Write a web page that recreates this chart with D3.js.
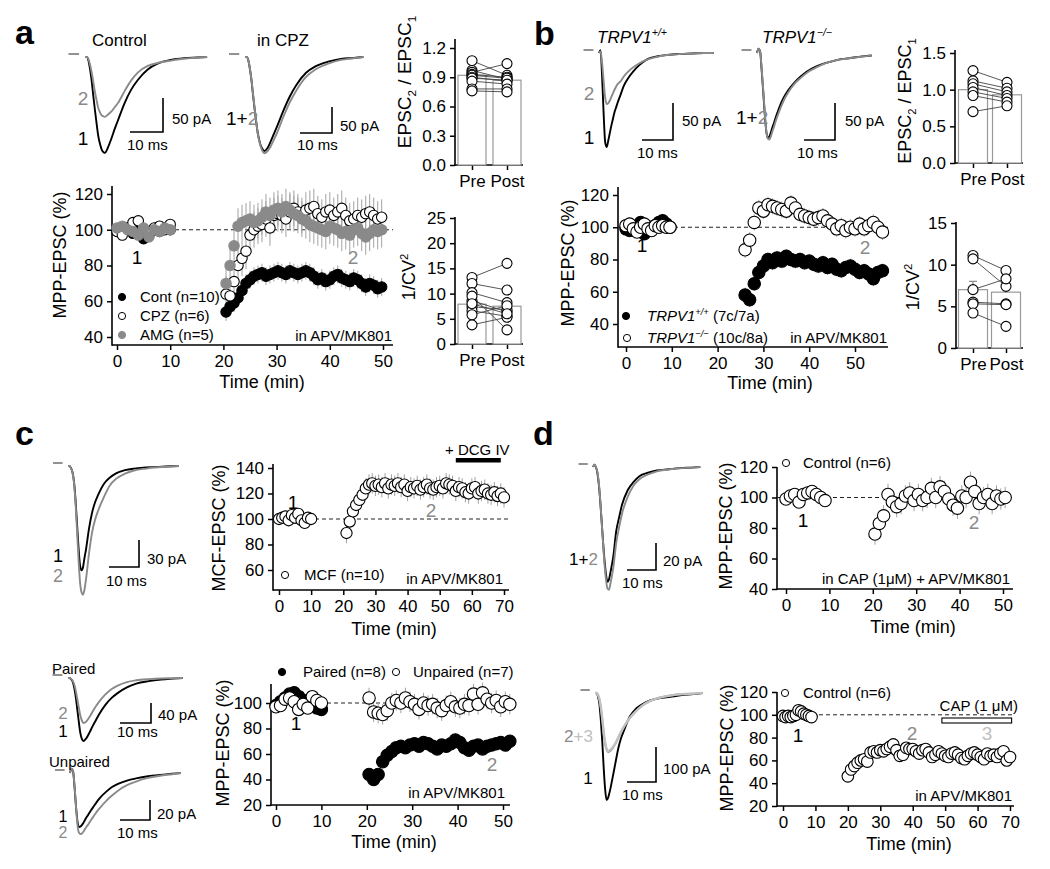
<!DOCTYPE html>
<html>
<head>
<meta charset="utf-8">
<script src="https://cdn.jsdelivr.net/npm/d3@7/dist/d3.min.js"></script>
<style>
html,body{margin:0;padding:0;background:#fff;}
svg{display:block;font-family:"Liberation Sans",Arial,Helvetica,sans-serif;}
</style>
</head>
<body>
<svg id="fig" width="1050" height="869" viewBox="0 0 1050 869"></svg>
<script>
// ======================= DATA =======================
// ---- Panel a: time course (MPP-EPSC %) ----
const aXTicks = [0, 10, 20, 30, 40, 50];
const aYTicks = [40, 60, 80, 100, 120];
const aPreT0 = 0, aPreDt = 1, aPostT0 = 20.5, aPostDt = 0.75;
const aContPre = [100, 99, 101, 98, 103, 95, 97, 100, 99, 101, 100];
const aCpzPre  = [99, 97, 101, 104, 105, 100, 98, 101, 102, 100, 103];
const aAmgPre  = [101, 102, 100, 99, 97, 101, 96, 100, 99, 101, 100];
const aContPost = [54, 57, 59, 62, 66, 70, 72, 74, 75, 76, 74, 75, 76, 77, 76, 75, 77, 76, 75, 76, 77, 76, 74, 72, 73, 71, 72, 74, 75, 73, 72, 71, 73, 72, 70, 68, 70, 69, 67, 68];
const aCpzPost  = [64, 63, 71, 80, 84, 88, 97, 100, 102, 103, 106, 101, 108, 109, 108, 106, 110, 112, 110, 108, 111, 112, 113, 109, 107, 110, 111, 108, 110, 112, 108, 105, 106, 108, 107, 109, 110, 108, 106, 107];
const aAmgPost  = [70, 80, 91, 102, 104, 105, 106, 104, 105, 107, 110, 108, 111, 112, 110, 113, 111, 109, 108, 106, 105, 103, 102, 101, 100, 99, 102, 101, 100, 98, 99, 97, 100, 101, 98, 96, 98, 100, 99, 100];
const aSemPre = 2, aContSem = 5, aCpzSem = 10, aAmgSem = 10;
const aLegend = ["Cont (n=10)", "CPZ (n=6)", "AMG (n=5)"];
// Panel a: paired ratio & 1/CV2
const pairCats = ["Pre", "Post"];
const aEpscPre  = [1.07, 0.97, 0.95, 0.93, 0.92, 0.90, 0.89, 0.86, 0.78, 0.76];
const aEpscPost = [0.92, 0.88, 1.04, 0.90, 0.89, 0.86, 0.87, 0.83, 0.78, 0.75];
const aEpscMean = [0.92, 0.87], aEpscSem = [0.03, 0.03];
const aEpscTicks = [0, 0.3, 0.6, 0.9, 1.2];
const aCvPre  = [13.2, 12.0, 10.2, 8.6, 7.4, 6.6, 5.8, 3.8, 9.5, 8.0];
const aCvPost = [16.0, 10.7, 8.2, 6.4, 6.8, 5.5, 7.6, 5.3, 2.8, 6.0];
const aCvMean = [7.9, 7.5], aCvSem = [0.9, 1.0];
const aCvTicks = [0, 5, 10, 15, 20, 25];

// ---- Panel b ----
const bXTicks = [0, 10, 20, 30, 40, 50];
const bYTicks = [40, 60, 80, 100, 120];
const bPreT0 = 0, bPreDt = 0.8, bPostT0 = 26, bPostDt = 1;
const bWtPre  = [99, 98, 100, 98, 103, 96, 98, 100, 101, 103, 104, 102, 100];
const bKoPre  = [101, 102, 99, 97, 100, 102, 99, 98, 101, 100, 101, 100, 100];
const bWtPost = [58, 55, 65, 72, 76, 80, 78, 81, 79, 82, 80, 79, 80, 78, 79, 77, 76, 78, 75, 77, 74, 73, 75, 76, 74, 72, 73, 71, 68, 72, 73];
const bKoPost = [86, 92, 103, 112, 110, 114, 113, 112, 111, 110, 115, 112, 108, 107, 106, 105, 106, 107, 104, 102, 99, 101, 98, 100, 99, 102, 99, 101, 103, 100, 97];
const bSemPre = 2, bWtSem = 4.5, bKoSem = 5;
const bLegend = ["(7c/7a)", "(10c/8a)"];
const bEpscPre  = [1.26, 1.12, 1.08, 1.03, 0.97, 0.92, 0.70];
const bEpscPost = [1.10, 1.02, 0.97, 0.92, 0.88, 0.83, 0.78];
const bEpscMean = [1.0, 0.93], bEpscSem = [0.07, 0.04];
const bEpscTicks = [0, 0.5, 1.0, 1.5];
const bCvPre  = [11.1, 10.7, 7.0, 5.5, 5.3, 4.2];
const bCvPost = [9.3, 7.4, 8.3, 5.3, 5.2, 2.6];
const bCvMean = [7.0, 6.7], bCvSem = [1.0, 0.9];
const bCvTicks = [0, 5, 10, 15];

// ---- Panel c ----
const cXTicks = [0, 10, 20, 30, 40, 50, 60, 70];
const cYTicks = [60, 80, 100, 120, 140];
const cPreT0 = 0, cPreDt = 1, cPostT0 = 21, cPostDt = 1;
const cMcfPre  = [100, 101, 102, 99, 103, 101, 104, 99, 97, 101, 100];
const cMcfPost = [89, 98, 106, 111, 115, 119, 124, 127, 128, 126, 127, 125, 128, 124, 127, 126, 128, 125, 127, 122, 125, 124, 126, 123, 125, 127, 124, 123, 125, 126, 124, 128, 127, 126, 122, 125, 124, 121, 120, 124, 125, 120, 122, 123, 120, 119, 121, 118, 120, 117];
const cSemPre = 2.5, cMcfSem = 8;
const cDcgStart = 55, cDcgEnd = 69;
const cbXTicks = [0, 10, 20, 30, 40, 50];
const cbYTicks = [20, 40, 60, 80, 100];
const cbPreT0 = 0, cbPreDt = 1, cbPostT0 = 20.5, cbPostDt = 1;
const cbPairPre  = [98, 101, 104, 107, 108, 105, 102, 100, 98, 96, 95];
const cbUnpPre   = [97, 98, 103, 104, 101, 95, 99, 96, 105, 102, 100];
const cbPairPost = [44, 40, 44, 54, 59, 62, 65, 66, 65, 67, 68, 66, 69, 68, 66, 64, 67, 66, 68, 71, 69, 65, 63, 66, 67, 64, 66, 67, 68, 69, 67, 70];
const cbUnpPost  = [104, 93, 92, 91, 94, 100, 102, 100, 104, 101, 99, 95, 100, 98, 99, 96, 94, 98, 101, 97, 96, 99, 98, 107, 99, 108, 103, 100, 102, 97, 101, 99];
const cbSemPre = 3, cbPairSem = 2, cbUnpSem = 8;

// ---- Panel d ----
const dXTicks = [0, 10, 20, 30, 40, 50];
const dYTicks = [40, 60, 80, 100, 120];
const dPreT0 = 0, dPreDt = 1, dPostT0 = 20.5, dPostDt = 1;
const dCapPre  = [99, 101, 102, 97, 102, 103, 104, 102, 100, 98];
const dCapPost = [76, 83, 88, 102, 97, 94, 96, 101, 103, 98, 102, 98, 100, 106, 100, 107, 104, 99, 95, 93, 101, 100, 110, 104, 96, 100, 102, 96, 101, 99, 100];
const dSemPre = 2, dCapSem = 7;
const dbXTicks = [0, 10, 20, 30, 40, 50, 60, 70];
const dbYTicks = [20, 40, 60, 80, 100, 120];
const dbPreT0 = 0, dbPreDt = 0.8, dbPostT0 = 20, dbPostDt = 1;
const dbCtlPre  = [99, 98, 99, 98, 99, 100, 104, 103, 101, 100, 99, 98];
const dbCtlPost = [46, 52, 55, 58, 60, 61, 59, 67, 68, 67, 69, 68, 70, 72, 74, 69, 64, 65, 71, 70, 70, 68, 66, 69, 70, 67, 63, 65, 68, 66, 64, 63, 66, 67, 65, 62, 61, 64, 66, 67, 65, 63, 61, 66, 64, 65, 63, 66, 68, 60, 63];
const dbSemPre = 1.5, dbCtlSem = 2.5;
const dbCapStart = 49, dbCapEnd = 70.5;

// ---- EPSC traces (time in ms from onset; fraction of peak) ----
const traceT = [0, 0.5, 1, 1.5, 2, 2.5, 3, 3.5, 4, 4.5, 5, 5.5, 6, 7, 8, 9, 10, 12, 14, 16, 19, 22, 26, 30, 34, 37];
const aCtrlBlack = [0, 0, .03, .12, .24, .40, .55, .69, .82, .90, .96, .99, 1.0, .94, .85, .75, .66, .48, .34, .24, .13, .07, .03, .012, .005, 0];
const aCtrlGrey  = [0, 0, .03, .12, .25, .41, .58, .72, .85, .92, .97, .99, 1.0, .96, .91, .84, .77, .57, .39, .26, .15, .10, .06, .03, .01, 0];
const aCpzBlack  = [0, 0, .03, .12, .24, .40, .55, .69, .81, .89, .95, .98, 1.0, .97, .90, .82, .74, .57, .42, .30, .17, .10, .05, .02, .01, 0];
const aCpzGrey   = [0, 0, .03, .11, .23, .38, .53, .67, .80, .88, .94, .98, 1.0, .98, .93, .86, .79, .62, .47, .35, .21, .13, .07, .03, .012, 0];
const bWtBlack = [0, -.03, .25, .65, .95, 1.0, .93, .85, .77, .70, .63, .58, .53, .44, .35, .29, .24, .16, .10, .06, .035, .02, .01, .005, 0, 0];
const bWtGrey  = [0, -.03, .20, .55, .88, 1.0, .98, .93, .86, .79, .72, .66, .61, .55, .46, .39, .33, .24, .17, .12, .07, .04, .02, .01, 0, 0];
const bKoBlack = [0, -.05, -.02, .20, .45, .72, .92, 1.0, .98, .93, .87, .82, .76, .66, .57, .50, .44, .35, .28, .22, .16, .12, .08, .06, .04, .03];
const bKoGrey  = [0, -.05, -.02, .18, .42, .68, .90, .99, 1.0, .96, .90, .85, .79, .69, .60, .52, .46, .36, .29, .23, .17, .12, .08, .06, .04, .03];
const cTopBlack = [0, 0, .02, .06, .15, .32, .55, .78, .95, 1.0, .97, .88, .80, .60, .45, .35, .28, .17, .11, .07, .04, .025, .015, .008, .003, 0];
const cTopGrey  = [0, 0, .02, .05, .13, .28, .50, .72, .90, .98, 1.0, .96, .88, .68, .52, .42, .35, .24, .15, .10, .06, .035, .02, .01, .004, 0];
const cPairBlack = [0, 0, .02, .06, .15, .30, .50, .70, .88, .97, 1.0, .98, .95, .86, .76, .67, .58, .43, .32, .24, .15, .09, .05, .025, .01, 0];
const cPairGrey  = [0, 0, .02, .06, .14, .28, .47, .66, .84, .95, 1.0, .99, .96, .86, .74, .63, .53, .37, .25, .17, .09, .05, .025, .01, .005, 0];
const cUnpBlack = [0, -.08, -.04, .25, .62, .90, 1.0, .99, .96, .92, .87, .82, .78, .69, .61, .53, .46, .35, .26, .20, .14, .10, .06, .035, .015, 0];
const cUnpGrey  = [0, -.07, -.04, .20, .55, .85, .98, 1.0, .99, .96, .92, .88, .85, .77, .70, .63, .57, .46, .37, .29, .20, .14, .08, .045, .02, 0];
const dTopBlack = [0, -.02, 0, .05, .15, .30, .48, .66, .82, .94, 1.0, .98, .92, .78, .56, .44, .33, .20, .13, .08, .05, .03, .02, .01, .005, 0];
const dTopGrey  = [0, -.02, 0, .04, .13, .27, .45, .63, .80, .92, .99, 1.0, .95, .82, .62, .49, .38, .24, .15, .10, .06, .035, .02, .01, .005, 0];
const dBotBlack = [0, 0, .03, .10, .25, .45, .70, .90, 1.0, .98, .93, .87, .80, .66, .52, .42, .35, .22, .15, .11, .07, .05, .035, .02, .01, 0];
const dBotGrey  = [0, 0, .03, .10, .25, .45, .68, .86, .96, 1.0, .99, .97, .94, .86, .76, .66, .57, .42, .31, .22, .13, .08, .04, .02, .01, 0];
const dBotLight = [0, 0, .03, .10, .24, .44, .67, .85, .96, 1.0, .99, .97, .94, .87, .77, .67, .58, .43, .32, .23, .14, .085, .045, .02, .01, 0];

// ======================= DRAWING =======================
const svg = d3.select("#fig");
const BLACK = "#000", GREY = "#8a8a8a", LIGHT = "#c0c0c0", ERR = "#a3a3a3";
const FS_TICK = 17, FS_TITLE = 18, FS_SM = 15, FS_NUM = 19;

function rich(parent, x, y, parts, o = {}) {
  const fs = o.fs || FS_SM;
  const t = parent.append("text").attr("x", x).attr("y", y)
    .attr("font-size", fs).attr("text-anchor", o.anchor || "start");
  if (o.transform) t.attr("transform", o.transform);
  if (o.bold) t.attr("font-weight", "bold");
  parts.forEach(p => {
    const ts = t.append("tspan").text(p.s).attr("fill", p.fill || BLACK);
    if (p.italic) ts.attr("font-style", "italic");
    if (p.sup) ts.attr("font-size", fs * 0.62).attr("baseline-shift", (fs * 0.4) + "px");
    if (p.sub) ts.attr("font-size", fs * 0.62).attr("baseline-shift", (-fs * 0.25) + "px");
  });
  return t;
}
function txt(x, y, s, o = {}) { return rich(svg, x, y, [{ s, fill: o.fill }], o); }
function yTitle(cx, cy, parts, fs) {
  rich(svg, 0, fs * 0.35, parts, { fs, anchor: "middle", transform: `translate(${cx},${cy}) rotate(-90)` });
}

function styleAxis(sel, fs) {
  sel.select(".domain").remove();
  sel.selectAll("line").attr("stroke", BLACK).attr("stroke-width", 1.5);
  sel.selectAll("text").attr("font-size", fs).attr("fill", BLACK)
    .attr("font-family", '"Liberation Sans", Arial, sans-serif');
}
function frame(g, c, x, y) {
  const gx = g.append("g").attr("transform", `translate(0,${c.axisY})`)
    .call(d3.axisBottom(x).tickValues(c.xt).tickSize(5).tickPadding(5).tickFormat(c.xf || (d => d)));
  styleAxis(gx, c.xfs || FS_TICK);
  const gy = g.append("g").attr("transform", `translate(${c.axisX},0)`)
    .call(d3.axisLeft(y).tickValues(c.yt).tickSize(5).tickPadding(4).tickFormat(c.yf || (d => d)));
  styleAxis(gy, c.yfs || FS_TICK);
  g.append("line").attr("x1", c.axisX).attr("x2", c.xEnd).attr("y1", c.axisY).attr("y2", c.axisY)
    .attr("stroke", BLACK).attr("stroke-width", 1.6);
  g.append("line").attr("x1", c.axisX).attr("x2", c.axisX).attr("y1", c.yTop).attr("y2", c.axisY + 0.8)
    .attr("stroke", BLACK).attr("stroke-width", 1.6);
}
function pts(t0, dt, vals, sem) { return vals.map((v, i) => ({ t: t0 + i * dt, v, e: sem })); }

function timeChart(c) {
  const g = svg.append("g");
  const x = d3.scaleLinear().domain(c.xd).range(c.xr);
  const y = d3.scaleLinear().domain(c.yd).range(c.yr);
  frame(g, c, x, y);
  g.append("line").attr("x1", c.axisX).attr("x2", c.xEnd).attr("y1", y(100)).attr("y2", y(100))
    .attr("stroke", "#222").attr("stroke-width", 1).attr("stroke-dasharray", "4,3");
  c.series.forEach(s => {
    g.append("g").selectAll("line").data(s.data).join("line")
      .attr("x1", d => x(d.t)).attr("x2", d => x(d.t))
      .attr("y1", d => y(d.v - d.e)).attr("y2", d => y(d.v + d.e))
      .attr("stroke", ERR).attr("stroke-width", 1);
  });
  c.series.forEach(s => {
    g.append("g").selectAll("circle").data(s.data).join("circle")
      .attr("cx", d => x(d.t)).attr("cy", d => y(d.v)).attr("r", c.r)
      .attr("fill", s.fill).attr("stroke", s.stroke).attr("stroke-width", 1.1);
  });
  return { g, x, y };
}
function legendDot(x, y, fill, stroke) {
  svg.append("circle").attr("cx", x).attr("cy", y).attr("r", 3.6)
    .attr("fill", fill).attr("stroke", stroke).attr("stroke-width", 1);
}

function pairChart(c) {
  const g = svg.append("g");
  const x = d3.scalePoint().domain(pairCats).range(c.xr);
  const y = d3.scaleLinear().domain(c.yd).range(c.yr);
  frame(g, { ...c, xt: pairCats, xfs: 17 }, x, y);
  g.selectAll("rect.bar").data(pairCats).join("rect")
    .attr("x", d => x(d) - c.bw / 2).attr("width", c.bw)
    .attr("y", (d, i) => y(c.mean[i])).attr("height", (d, i) => c.axisY - y(c.mean[i]))
    .attr("fill", "#fff").attr("stroke", "#999").attr("stroke-width", 1.2);
  pairCats.forEach((d, i) => {
    g.append("line").attr("x1", x(d)).attr("x2", x(d)).attr("y1", y(c.mean[i])).attr("y2", y(c.mean[i] + c.sem[i]))
      .attr("stroke", "#888").attr("stroke-width", 1.2);
    g.append("line").attr("x1", x(d) - 4).attr("x2", x(d) + 4).attr("y1", y(c.mean[i] + c.sem[i])).attr("y2", y(c.mean[i] + c.sem[i]))
      .attr("stroke", "#888").attr("stroke-width", 1.2);
  });
  const pairs = c.pre.map((v, i) => [v, c.post[i]]);
  g.selectAll("line.pair").data(pairs).join("line")
    .attr("x1", x("Pre")).attr("x2", x("Post")).attr("y1", d => y(d[0])).attr("y2", d => y(d[1]))
    .attr("stroke", "#444").attr("stroke-width", 0.9);
  [["Pre", c.pre], ["Post", c.post]].forEach(([k, arr]) => {
    g.selectAll(null).data(arr).join("circle")
      .attr("cx", x(k)).attr("cy", d => y(d)).attr("r", 5)
      .attr("fill", "#fff").attr("stroke", BLACK).attr("stroke-width", 1.1);
  });
}

function tracePanel(p) {
  const g = svg.append("g");
  const xs = d3.scaleLinear().domain([0, 10]).range([p.x0, p.x0 + p.px10]);
  const ys = d3.scaleLinear().domain([0, p.barPA]).range([p.y0, p.y0 + p.barPx]);
  g.append("line").attr("x1", xs(-5)).attr("x2", xs(-1.8)).attr("y1", p.y0 - 3).attr("y2", p.y0 - 3)
    .attr("stroke", "#777").attr("stroke-width", 1.6);
  p.items.forEach(it => {
    const line = d3.line().x((d, i) => xs(traceT[i])).y(d => ys(d * it.amp)).curve(d3.curveMonotoneX);
    g.append("path").attr("d", line(it.frac)).attr("fill", "none")
      .attr("stroke", it.color).attr("stroke-width", it.w || 1.9).attr("stroke-linejoin", "round");
  });
  const xR = p.sbX, yB = p.sbY;
  const wpx = xs(10) - xs(0), hpx = ys(p.barPA) - ys(0);
  g.append("path").attr("d", `M${xR - wpx},${yB}H${xR}V${yB - hpx}`)
    .attr("fill", "none").attr("stroke", BLACK).attr("stroke-width", 1.6);
  txt(p.paPos[0], p.paPos[1], p.barPA + " pA", { fs: FS_SM });
  txt(p.msPos[0], p.msPos[1], "10 ms", { fs: FS_SM });
}

// ---------------- Panel letters ----------------
txt(15, 44, "a", { fs: 34, bold: true });
txt(534, 45, "b", { fs: 34, bold: true });
txt(15, 445, "c", { fs: 34, bold: true });
txt(533, 445, "d", { fs: 34, bold: true });

// ---------------- Panel a ----------------
txt(92, 46, "Control", { fs: 17 });
txt(257, 46, "in CPZ", { fs: 17 });
tracePanel({ x0: 85, px10: 33, y0: 57, barPA: 50, barPx: 34, sbX: 163, sbY: 132,
  paPos: [172, 124], msPos: [127, 150],
  items: [{ frac: aCtrlBlack, amp: 141, color: BLACK }, { frac: aCtrlGrey, amp: 88, color: GREY }] });
txt(83, 105, "2", { fs: FS_NUM, anchor: "middle", fill: GREY });
txt(83, 145, "1", { fs: FS_NUM, anchor: "middle" });
tracePanel({ x0: 245, px10: 32, y0: 57, barPA: 50, barPx: 26, sbX: 332, sbY: 133,
  paPos: [340, 131], msPos: [297, 150],
  items: [{ frac: aCpzBlack, amp: 181, color: BLACK }, { frac: aCpzGrey, amp: 185, color: GREY }] });
rich(svg, 226, 125, [{ s: "1+" }, { s: "2", fill: GREY }], { fs: FS_NUM });

timeChart({ xd: [0, 50], xr: [117, 383], yd: [40, 120], yr: [337, 194], axisX: 112, xEnd: 393, axisY: 345, yTop: 186,
  xt: aXTicks, yt: aYTicks, r: 5.2, series: [
    { data: pts(aPreT0, aPreDt, aContPre, aSemPre).concat(pts(aPostT0, aPostDt, aContPost, aContSem)), fill: BLACK, stroke: BLACK },
    { data: pts(aPreT0, aPreDt, aCpzPre, aSemPre).concat(pts(aPostT0, aPostDt, aCpzPost, aCpzSem)), fill: "#fff", stroke: BLACK },
    { data: pts(aPreT0, aPreDt, aAmgPre, aSemPre).concat(pts(aPostT0, aPostDt, aAmgPost, aAmgSem)), fill: GREY, stroke: GREY }] });
yTitle(60, 255, [{ s: "MPP-EPSC (%)" }], FS_TITLE);
txt(262, 388, "Time (min)", { fs: FS_TITLE, anchor: "middle" });
txt(137, 264, "1", { fs: FS_NUM, anchor: "middle" });
txt(353, 264, "2", { fs: FS_NUM, anchor: "middle", fill: GREY });
legendDot(122, 297, BLACK, BLACK); txt(140, 302, aLegend[0]);
legendDot(122, 316, "#fff", BLACK); txt(140, 321, aLegend[1]);
legendDot(122, 335, GREY, GREY); txt(140, 340, aLegend[2]);
txt(392, 341, "in APV/MK801", { anchor: "end" });

pairChart({ axisX: 455, axisY: 165, xEnd: 523, yTop: 39, yd: [0, 1.2], yr: [165, 48], yt: aEpscTicks, yf: d3.format(".1f"),
  xr: [472, 507], bw: 28, mean: aEpscMean, sem: aEpscSem, pre: aEpscPre, post: aEpscPost });
yTitle(404, 82, [{ s: "EPSC" }, { s: "2", sub: true }, { s: " / EPSC" }, { s: "1", sub: true }], 19);
pairChart({ axisX: 455, axisY: 344, xEnd: 523, yTop: 217, yd: [0, 25], yr: [344, 218], yt: aCvTicks,
  xr: [472, 507], bw: 28, mean: aCvMean, sem: aCvSem, pre: aCvPre, post: aCvPost });
yTitle(409, 277, [{ s: "1/CV" }, { s: "2", sup: true }], FS_TITLE);

// ---------------- Panel b ----------------
rich(svg, 597, 43, [{ s: "TRPV1", italic: true }, { s: "+/+", sup: true, italic: true }], { fs: 17 });
rich(svg, 762, 43, [{ s: "TRPV1", italic: true }, { s: "\u2212/\u2212", sup: true, italic: true }], { fs: 17 });
tracePanel({ x0: 599, px10: 31, y0: 53, barPA: 50, barPx: 37, sbX: 673, sbY: 140,
  paPos: [682, 126], msPos: [637, 158],
  items: [{ frac: bWtBlack, amp: 127, color: BLACK }, { frac: bWtGrey, amp: 69, color: GREY }] });
txt(589, 100, "2", { fs: FS_NUM, anchor: "middle", fill: GREY });
txt(589, 144, "1", { fs: FS_NUM, anchor: "middle" });
tracePanel({ x0: 757, px10: 31, y0: 53, barPA: 50, barPx: 37, sbX: 835, sbY: 140,
  paPos: [845, 126], msPos: [797, 158],
  items: [{ frac: bKoBlack, amp: 115, color: BLACK }, { frac: bKoGrey, amp: 117, color: GREY }] });
rich(svg, 736, 124, [{ s: "1+" }, { s: "2", fill: GREY }], { fs: FS_NUM });

timeChart({ xd: [0, 50], xr: [626, 855], yd: [40, 120], yr: [324, 195], axisX: 618, xEnd: 888, axisY: 347, yTop: 187,
  xt: bXTicks, yt: bYTicks, r: 6.2, series: [
    { data: pts(bPreT0, bPreDt, bWtPre, bSemPre).concat(pts(bPostT0, bPostDt, bWtPost, bWtSem)), fill: BLACK, stroke: BLACK },
    { data: pts(bPreT0, bPreDt, bKoPre, bSemPre).concat(pts(bPostT0, bPostDt, bKoPost, bKoSem)), fill: "#fff", stroke: BLACK }] });
yTitle(568, 263, [{ s: "MPP-EPSC (%)" }], FS_TITLE);
txt(770, 389, "Time (min)", { fs: FS_TITLE, anchor: "middle" });
txt(642, 252, "1", { fs: FS_NUM, anchor: "middle" });
txt(865, 254, "2", { fs: FS_NUM, anchor: "middle", fill: GREY });
legendDot(626, 316, BLACK, BLACK);
rich(svg, 647, 321, [{ s: "TRPV1", italic: true }, { s: "+/+", sup: true, italic: true }, { s: " " + bLegend[0] }]);
legendDot(627, 338, "#fff", BLACK);
rich(svg, 647, 343, [{ s: "TRPV1", italic: true }, { s: "\u2212/\u2212", sup: true, italic: true }, { s: " " + bLegend[1] }]);
txt(887, 343, "in APV/MK801", { anchor: "end" });

pairChart({ axisX: 955, axisY: 163, xEnd: 1023, yTop: 50, yd: [0, 1.5], yr: [163, 53], yt: bEpscTicks, yf: d3.format(".1f"),
  xr: [973, 1007], bw: 29, mean: bEpscMean, sem: bEpscSem, pre: bEpscPre, post: bEpscPost });
yTitle(905, 101, [{ s: "EPSC" }, { s: "2", sub: true }, { s: " / EPSC" }, { s: "1", sub: true }], FS_TITLE);
pairChart({ axisX: 956, axisY: 348, xEnd: 1023, yTop: 222, yd: [0, 15], yr: [348, 223], yt: bCvTicks,
  xr: [973, 1006], bw: 29, mean: bCvMean, sem: bCvSem, pre: bCvPre, post: bCvPost });
yTitle(913, 287, [{ s: "1/CV" }, { s: "2", sup: true }], FS_TITLE);

// ---------------- Panel c ----------------
tracePanel({ x0: 68, px10: 30, y0: 466, barPA: 30, barPx: 27, sbX: 139, sbY: 567,
  paPos: [147, 564], msPos: [106, 586],
  items: [{ frac: cTopBlack, amp: 116, color: BLACK }, { frac: cTopGrey, amp: 143, color: GREY }] });
txt(58, 562, "1", { fs: FS_NUM - 1, anchor: "middle" });
txt(58, 582, "2", { fs: FS_NUM - 1, anchor: "middle", fill: GREY });

const cCh = timeChart({ xd: [0, 70], xr: [279, 504], yd: [60, 140], yr: [570, 468], axisX: 273, xEnd: 509, axisY: 590, yTop: 464,
  xt: cXTicks, yt: cYTicks, r: 5.6, series: [
    { data: pts(cPreT0, cPreDt, cMcfPre, cSemPre).concat(pts(cPostT0, cPostDt, cMcfPost, cMcfSem)), fill: "#fff", stroke: BLACK }] });
yTitle(219, 528, [{ s: "MCF-EPSC (%)" }], FS_TITLE);
txt(394, 635, "Time (min)", { fs: FS_TITLE, anchor: "middle" });
txt(293, 509, "1", { fs: FS_NUM, anchor: "middle" });
txt(431, 517, "2", { fs: FS_NUM, anchor: "middle", fill: GREY });
legendDot(285, 575, "#fff", BLACK); txt(304, 580, "MCF (n=10)");
txt(503, 584, "in APV/MK801", { anchor: "end" });
svg.append("rect").attr("x", cCh.x(cDcgStart)).attr("y", 458).attr("width", cCh.x(cDcgEnd) - cCh.x(cDcgStart)).attr("height", 4.5).attr("fill", BLACK);
rich(svg, 445, 455, [{ s: "+ DCG IV" }], { fs: FS_SM });

tracePanel({ x0: 68, px10: 31, y0: 678, barPA: 40, barPx: 20, sbX: 151, sbY: 723,
  paPos: [158, 720], msPos: [117, 737],
  items: [{ frac: cPairBlack, amp: 126, color: BLACK }, { frac: cPairGrey, amp: 90, color: GREY }] });
txt(52, 674, "Paired", { fs: FS_SM });
txt(63, 719, "2", { fs: 17, anchor: "middle", fill: GREY });
txt(63, 737, "1", { fs: 17, anchor: "middle" });
tracePanel({ x0: 70, px10: 30, y0: 773, barPA: 20, barPx: 20, sbX: 150, sbY: 820,
  paPos: [157, 819], msPos: [117, 838],
  items: [{ frac: cUnpBlack, amp: 54, color: BLACK }, { frac: cUnpGrey, amp: 61, color: GREY }] });
txt(49, 767, "Unpaired", { fs: FS_SM });
txt(63, 822, "1", { fs: 16, anchor: "middle" });
txt(63, 838, "2", { fs: 16, anchor: "middle", fill: GREY });

timeChart({ xd: [0, 50], xr: [276, 503], yd: [20, 100], yr: [805, 703], axisX: 271, xEnd: 510, axisY: 805, yTop: 684,
  xt: cbXTicks, yt: cbYTicks, r: 6.2, series: [
    { data: pts(cbPreT0, cbPreDt, cbPairPre, cbSemPre).concat(pts(cbPostT0, cbPostDt, cbPairPost, cbPairSem)), fill: BLACK, stroke: BLACK },
    { data: pts(cbPreT0, cbPreDt, cbUnpPre, cbSemPre).concat(pts(cbPostT0, cbPostDt, cbUnpPost, cbUnpSem)), fill: "#fff", stroke: BLACK }] });
yTitle(223, 743, [{ s: "MPP-EPSC (%)" }], FS_TITLE);
txt(394, 848, "Time (min)", { fs: FS_TITLE, anchor: "middle" });
txt(296, 730, "1", { fs: FS_NUM, anchor: "middle" });
txt(492, 771, "2", { fs: FS_NUM, anchor: "middle", fill: GREY });
legendDot(282, 672, BLACK, BLACK); txt(303, 677, "Paired (n=8)");
legendDot(396, 672, "#fff", BLACK); txt(413, 677, "Unpaired (n=7)");
txt(505, 798, "in APV/MK801", { anchor: "end" });

// ---------------- Panel d ----------------
tracePanel({ x0: 593, px10: 29, y0: 467, barPA: 20, barPx: 27, sbX: 656, sbY: 570,
  paPos: [663, 566], msPos: [622, 588],
  items: [{ frac: dTopBlack, amp: 85, color: BLACK }, { frac: dTopGrey, amp: 91, color: GREY }] });
rich(svg, 569, 565, [{ s: "1+" }, { s: "2", fill: GREY }], { fs: 17 });

timeChart({ xd: [0, 50], xr: [786, 1003], yd: [40, 120], yr: [589, 467], axisX: 777, xEnd: 1013, axisY: 589, yTop: 467,
  xt: dXTicks, yt: dYTicks, r: 6.2, series: [
    { data: pts(dPreT0, dPreDt, dCapPre, dSemPre).concat(pts(dPostT0, dPostDt, dCapPost, dCapSem)), fill: "#fff", stroke: BLACK }] });
yTitle(726, 526, [{ s: "MPP-EPSC (%)" }], FS_TITLE);
txt(913, 633, "Time (min)", { fs: FS_TITLE, anchor: "middle" });
txt(803, 527, "1", { fs: FS_NUM, anchor: "middle" });
txt(974, 529, "2", { fs: FS_NUM, anchor: "middle", fill: GREY });
legendDot(786, 463, "#fff", BLACK); txt(803, 468, "Control (n=6)");
txt(1010, 584, "in CAP (1\u03BCM) + APV/MK801", { anchor: "end" });

tracePanel({ x0: 595, px10: 29, y0: 693, barPA: 100, barPx: 35, sbX: 656, sbY: 782,
  paPos: [663, 774], msPos: [622, 800],
  items: [{ frac: dBotBlack, amp: 306, color: BLACK }, { frac: dBotGrey, amp: 169, color: GREY },
          { frac: dBotLight, amp: 166, color: LIGHT, w: 2.4 }] });
rich(svg, 564, 742, [{ s: "2", fill: GREY }, { s: "+3", fill: LIGHT }], { fs: 17 });
txt(588, 784, "1", { fs: 17, anchor: "middle" });

const dbCh = timeChart({ xd: [0, 70], xr: [783, 1010], yd: [20, 120], yr: [806, 692], axisX: 777, xEnd: 1014, axisY: 806, yTop: 692,
  xt: dbXTicks, yt: dbYTicks, r: 5.8, series: [
    { data: pts(dbPreT0, dbPreDt, dbCtlPre, dbSemPre).concat(pts(dbPostT0, dbPostDt, dbCtlPost, dbCtlSem)), fill: "#fff", stroke: BLACK }] });
yTitle(727, 748, [{ s: "MPP-EPSC (%)" }], FS_TITLE);
txt(909, 850, "Time (min)", { fs: FS_TITLE, anchor: "middle" });
txt(798, 742, "1", { fs: FS_NUM, anchor: "middle" });
txt(912, 740, "2", { fs: FS_NUM, anchor: "middle", fill: GREY });
txt(987, 740, "3", { fs: FS_NUM, anchor: "middle", fill: LIGHT });
legendDot(785, 693, "#fff", BLACK); txt(803, 698, "Control (n=6)");
txt(1012, 801, "in APV/MK801", { anchor: "end" });
svg.append("rect").attr("x", dbCh.x(dbCapStart)).attr("y", 718).attr("width", dbCh.x(dbCapEnd) - dbCh.x(dbCapStart)).attr("height", 5)
  .attr("fill", "#fff").attr("stroke", BLACK).attr("stroke-width", 1.1);
txt(1018, 711, "CAP (1 \u03BCM)", { anchor: "end" });
</script>
</body>
</html>
